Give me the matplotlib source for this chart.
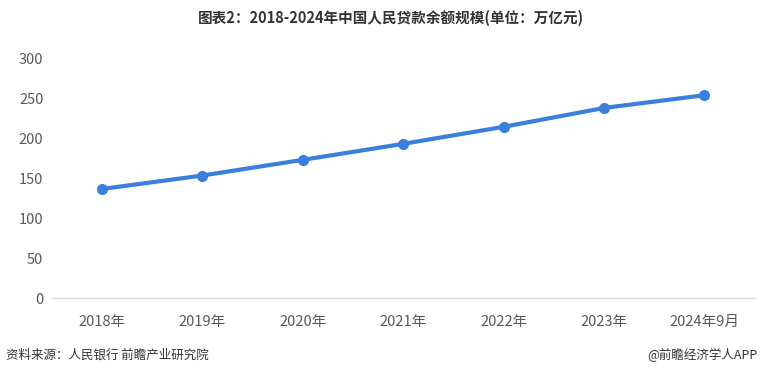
import matplotlib
matplotlib.use("Agg")
import matplotlib.pyplot as plt

plt.rcParams['font.family'] = ['Noto Sans CJK SC', 'DejaVu Sans']

# data (万亿元)
years = ['2018年', '2019年', '2020年', '2021年', '2022年', '2023年', '2024年9月']
loans = [136.3, 153.1, 172.7, 192.7, 214.0, 237.6, 253.5]
y_ticks = [0, 50, 100, 150, 200, 250, 300]

fig = plt.figure(figsize=(7.6, 3.76), dpi=100)
ax = fig.add_axes([0.068, 0.2074, 0.925, 0.6383])

x = list(range(len(years)))
ax.plot(x, loans, color='#3a7fdc', linewidth=3, marker='o', markersize=7,
        solid_capstyle='round', zorder=3)

ax.set_xlim(-0.5, len(years) - 0.5)
ax.set_ylim(0, 300)
ax.set_xticks(x)
ax.set_xticklabels(years)
ax.set_yticks(y_ticks)

for s in ['top', 'right', 'left']:
    ax.spines[s].set_visible(False)
ax.spines['bottom'].set_color('#d9d9d9')
ax.spines['bottom'].set_linewidth(1)
ax.tick_params(axis='both', length=0, labelsize=10.5, colors='#595959')
ax.tick_params(axis='x', pad=12)
ax.tick_params(axis='y', pad=6)

fig.text(0.515, 0.952, '图表2：2018-2024年中国人民贷款余额规模(单位：万亿元)',
         ha='center', va='center', fontsize=10.5, fontweight='bold', color='#333333')
fig.text(0.008, 0.055, '资料来源：人民银行 前瞻产业研究院', ha='left', va='center',
         fontsize=9, color='#333333')
fig.text(0.997, 0.055, '@前瞻经济学人APP', ha='right', va='center',
         fontsize=9, color='#333333')

fig.savefig('out.png', dpi=100)
